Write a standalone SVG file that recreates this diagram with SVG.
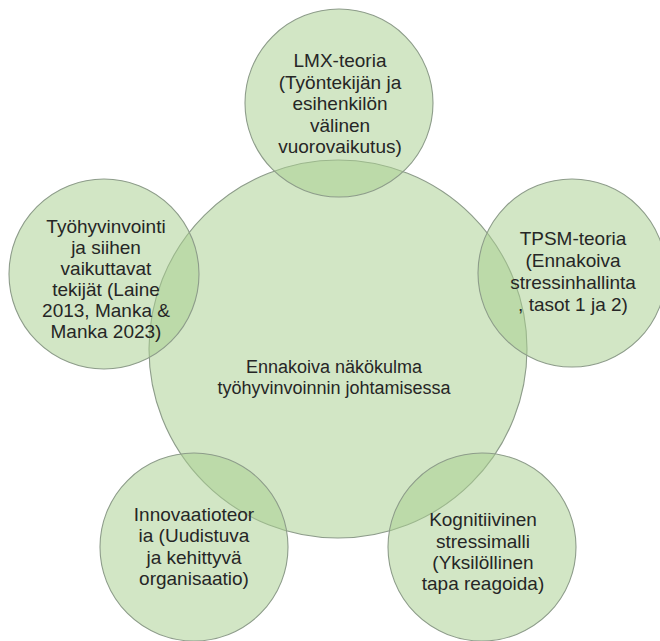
<svg xmlns="http://www.w3.org/2000/svg" width="660" height="641" viewBox="0 0 660 641">
  <style>
    .bubble { fill: #a9cf90; fill-opacity: 0.52; stroke: #8d9c8a; stroke-width: 1.1; }
    .lbl { font-family: "Liberation Sans", Arial, sans-serif; font-size: 19px; fill: #262626; text-anchor: middle; }
    .hub { font-size: 18px; }
  </style>
  <rect width="660" height="641" fill="#ffffff"/>

  <!-- central concept -->
  <g id="center">
    <circle class="bubble" cx="338" cy="349" r="189"/>
    <text class="lbl hub" x="334" y="373">Ennakoiva näkökulma</text>
    <text class="lbl hub" x="334" y="394">työhyvinvoinnin johtamisessa</text>
  </g>

  <!-- surrounding theories -->
  <g id="lmx">
    <circle class="bubble" cx="339" cy="103" r="94"/>
    <text class="lbl" x="340" y="67">LMX-teoria</text>
    <text class="lbl" x="340" y="89">(Työntekijän ja</text>
    <text class="lbl" x="340" y="110">esihenkilön</text>
    <text class="lbl" x="340" y="132">välinen</text>
    <text class="lbl" x="340" y="153">vuorovaikutus)</text>
  </g>

  <g id="tyohyvinvointi">
    <circle class="bubble" cx="104" cy="274" r="95"/>
    <text class="lbl" x="106" y="233">Työhyvinvointi</text>
    <text class="lbl" x="106" y="254">ja siihen</text>
    <text class="lbl" x="106" y="275">vaikuttavat</text>
    <text class="lbl" x="106" y="296">tekijät (Laine</text>
    <text class="lbl" x="106" y="317">2013, Manka &amp;</text>
    <text class="lbl" x="106" y="338">Manka 2023)</text>
  </g>

  <g id="tpsm">
    <circle class="bubble" cx="572" cy="273" r="94"/>
    <text class="lbl" x="573" y="245">TPSM-teoria</text>
    <text class="lbl" x="573" y="267">(Ennakoiva</text>
    <text class="lbl" x="573" y="289">stressinhallinta</text>
    <text class="lbl" x="573" y="311">, tasot 1 ja 2)</text>
  </g>

  <g id="innovaatio">
    <circle class="bubble" cx="194" cy="547" r="94"/>
    <text class="lbl" x="194" y="521">Innovaatioteor</text>
    <text class="lbl" x="194" y="542">ia (Uudistuva</text>
    <text class="lbl" x="194" y="564">ja kehittyvä</text>
    <text class="lbl" x="194" y="585">organisaatio)</text>
  </g>

  <g id="kognitiivinen">
    <circle class="bubble" cx="482" cy="547" r="94"/>
    <text class="lbl" x="483" y="526">Kognitiivinen</text>
    <text class="lbl" x="483" y="548">stressimalli</text>
    <text class="lbl" x="483" y="569">(Yksilöllinen</text>
    <text class="lbl" x="483" y="590">tapa reagoida)</text>
  </g>

  <g id="connectors"></g>
</svg>
